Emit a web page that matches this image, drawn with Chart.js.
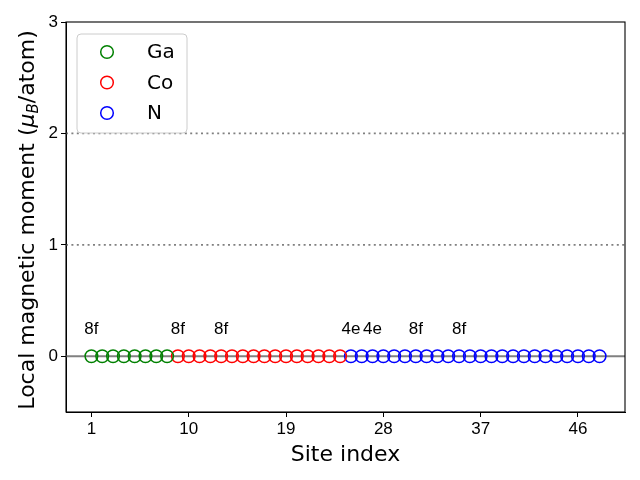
<!DOCTYPE html>
<html>
<head>
<meta charset="utf-8">
<script src="https://cdn.jsdelivr.net/npm/chart.js@4"></script>
<style>
html, body { margin: 0; background: #fff; }
</style>
</head>
<body>
<canvas id="c" width="640" height="480"></canvas>
<script>
//* Datos: índice de sitio y momento magnético local por especie
const gaSites = [1, 2, 3, 4, 5, 6, 7, 8];
const gaMoments = [0, 0, 0, 0, 0, 0, 0, 0];
const coSites = [9, 10, 11, 12, 13, 14, 15, 16, 17, 18, 19, 20, 21, 22, 23, 24];
const coMoments = [0, 0, 0, 0, 0, 0, 0, 0, 0, 0, 0, 0, 0, 0, 0, 0];
const nSites = [25, 26, 27, 28, 29, 30, 31, 32, 33, 34, 35, 36, 37, 38, 39, 40, 41, 42, 43, 44, 45, 46, 47, 48];
const nMoments = [0, 0, 0, 0, 0, 0, 0, 0, 0, 0, 0, 0, 0, 0, 0, 0, 0, 0, 0, 0, 0, 0, 0, 0];

//* Etiquetas de Wyckoff
const wyckSites = [1, 9, 13, 25, 27, 31, 35];
const wyckLabels = ["8f", "8f", "8f", "4e", "4e", "8f", "8f"];
const wyckY = 0.2;

//* Ticks
const xTicks = [1, 10, 19, 28, 37, 46];
const yTicks = [0, 1, 2, 3];

//* Líneas horizontales de referencia
const refLines = [0, 1, 2];

const tickFont = "'Liberation Sans', Arial, sans-serif";
const mainFont = "'DejaVu Sans', sans-serif";

const toPoints = (xs, ys) => xs.map((x, i) => ({ x: x, y: ys[i] }));

//* Estilo común de los puntos
const ptStyle = (color) => ({
	showLine: false,
	pointStyle: "circle",
	pointRadius: 6.3,
	pointBorderWidth: 1.5,
	borderColor: color,
	pointBorderColor: color,
	backgroundColor: "rgba(0,0,0,0)",
	pointBackgroundColor: "rgba(0,0,0,0)",
});

//funcion plugin para líneas, marco, textos y leyenda
const extras = {
	id: "extras",
	beforeDatasetsDraw(chart) {
		const { ctx, chartArea: a, scales } = chart;
		ctx.save();
		refLines.forEach((v) => {
			const y = scales.y.getPixelForValue(v);
			ctx.beginPath();
			ctx.strokeStyle = "#808080";
			if (v === 0) {
				ctx.lineWidth = 2;
				ctx.setLineDash([]);
			} else {
				ctx.lineWidth = 1.8;
				ctx.setLineDash([2, 3.4]);
			}
			ctx.moveTo(a.left, y);
			ctx.lineTo(a.right, y);
			ctx.stroke();
		});
		ctx.restore();
	},
	afterDraw(chart) {
		const { ctx, chartArea: a, scales } = chart;
		ctx.save();
		//* Marco
		ctx.strokeStyle = "#000";
		ctx.lineWidth = 1.1;
		ctx.setLineDash([]);
		ctx.strokeRect(a.left, a.top, a.right - a.left, a.bottom - a.top);

		//* Etiquetas 8f / 4e
		ctx.fillStyle = "#000";
		ctx.font = "17px " + tickFont;
		ctx.textAlign = "center";
		ctx.textBaseline = "alphabetic";
		wyckSites.forEach((s, i) => {
			ctx.fillText(wyckLabels[i], scales.x.getPixelForValue(s), scales.y.getPixelForValue(wyckY));
		});

		//* Leyenda
		ctx.beginPath();
		ctx.roundRect(77, 34, 110, 99, 4);
		ctx.fillStyle = "rgba(255,255,255,0.8)";
		ctx.fill();
		ctx.strokeStyle = "#cccccc";
		ctx.lineWidth = 1;
		ctx.stroke();
		ctx.font = "20px " + mainFont;
		ctx.textAlign = "left";
		ctx.textBaseline = "middle";
		chart.data.datasets.forEach((ds, i) => {
			const y = 52 + i * 30.5;
			ctx.beginPath();
			ctx.arc(107, y, 6.3, 0, Math.PI * 2);
			ctx.strokeStyle = ds.borderColor;
			ctx.lineWidth = 1.5;
			ctx.stroke();
			ctx.fillStyle = "#000";
			ctx.fillText(ds.label, 147, y + 1);
		});

		//* Título eje X
		ctx.font = "22px " + mainFont;
		ctx.textAlign = "center";
		ctx.textBaseline = "alphabetic";
		ctx.fillText("Site index", (a.left + a.right) / 2, 461);

		//* Título eje Y con subíndice
		const p1 = "Local magnetic moment (";
		const p3 = "/atom)";
		ctx.translate(26, (a.top + a.bottom) / 2 + 3);
		ctx.rotate(-Math.PI / 2);
		ctx.textAlign = "left";
		ctx.font = "22px " + mainFont;
		const w1 = ctx.measureText(p1).width;
		const w3 = ctx.measureText(p3).width;
		ctx.font = "italic 22px " + mainFont;
		const wMu = ctx.measureText("μ").width;
		ctx.font = "italic 15px " + mainFont;
		const wB = ctx.measureText("B").width;
		let x = -(w1 + wMu + wB + w3) / 2;
		const by = 8;
		ctx.font = "22px " + mainFont;
		ctx.fillText(p1, x, by);
		x += w1;
		ctx.font = "italic 22px " + mainFont;
		ctx.fillText("μ", x, by);
		x += wMu;
		ctx.font = "italic 15px " + mainFont;
		ctx.fillText("B", x, by + 4);
		x += wB;
		ctx.font = "22px " + mainFont;
		ctx.fillText(p3, x, by);
		ctx.restore();
	},
};

const ctx = document.getElementById("c").getContext("2d");

const chart = new Chart(ctx, {
	type: "scatter",
	data: {
		datasets: [
			{ label: "Ga", data: toPoints(gaSites, gaMoments), ...ptStyle("#008000") },
			{ label: "Co", data: toPoints(coSites, coMoments), ...ptStyle("#ff0000") },
			{ label: "N", data: toPoints(nSites, nMoments), ...ptStyle("#0000ff") },
		],
	},
	options: {
		responsive: false,
		animation: false,
		events: [],
		layout: { padding: { top: 22, right: 15, left: 0, bottom: 0 } },
		plugins: {
			legend: { display: false },
			tooltip: { enabled: false },
		},
		scales: {
			x: {
				type: "linear",
				min: -1.35,
				max: 50.35,
				afterBuildTicks: (s) => { s.ticks = xTicks.map((v) => ({ value: v })); },
				afterFit: (s) => { s.height = 68; },
				grid: { drawOnChartArea: false, drawTicks: true, tickLength: 5, color: "#000", tickWidth: 1 },
				border: { display: true, color: "#000", width: 1 },
				ticks: { color: "#000", padding: 2, maxRotation: 0, font: { size: 17, family: tickFont } },
			},
			y: {
				min: -0.5,
				max: 3,
				afterBuildTicks: (s) => { s.ticks = yTicks.map((v) => ({ value: v })); },
				afterFit: (s) => { s.width = 66; },
				grid: { drawOnChartArea: false, drawTicks: true, tickLength: 5, color: "#000", tickWidth: 1 },
				border: { display: true, color: "#000", width: 1 },
				ticks: { color: "#000", padding: 3, font: { size: 17, family: tickFont } },
			},
		},
	},
	plugins: [extras],
});
</script>
</body>
</html>
